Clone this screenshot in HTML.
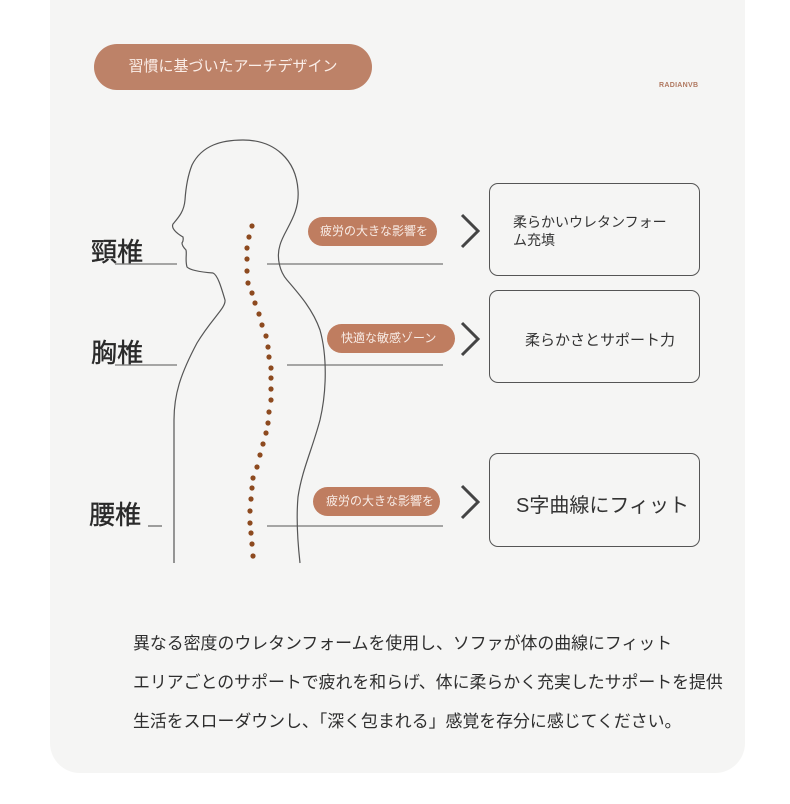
<!DOCTYPE html>
<html><head><meta charset="utf-8"><style>
html,body{margin:0;padding:0;background:#fff;}
body{width:790px;height:804px;position:relative;overflow:hidden;font-family:"Liberation Sans","Noto Sans CJK JP",sans-serif;}
.card{position:absolute;left:50px;top:-30px;width:695px;height:803px;background:#f5f5f4;border-radius:30px;}
.abs{position:absolute;white-space:nowrap;}
.pill{position:absolute;background:#bf7d60;color:#f8ece6;border-radius:15px;font-size:12px;line-height:29px;height:29px;overflow:hidden;}
.box{position:absolute;border:1.3px solid #555;border-radius:9px;box-sizing:border-box;color:#333;}
.lbl{position:absolute;font-size:26px;color:#2a2a2a;-webkit-text-stroke:0.4px #2a2a2a;}
.para{position:absolute;left:133px;font-size:16.9px;color:#2e2e2e;white-space:nowrap;}
</style></head><body>
<div class="card"></div>
<div class="abs" style="left:94px;top:44px;width:278px;height:46px;border-radius:23px;background:#bd8268;color:#fbeee8;font-size:15px;line-height:46px;text-align:center;">習慣に基づいたアーチデザイン</div>
<div class="abs" style="left:659px;top:82px;font-size:7px;font-weight:bold;color:#b07860;letter-spacing:0.3px;">RADIANVB</div>

<svg class="abs" style="left:0;top:0" width="790" height="804">
<path d="M174,563 L174,420 C174,395 180,375 197,343 C212,318 226,308 225,300 C222,290 218,275 213,273 C200,272 190,270 187,267 C185,260 187,254 186,250 C183,247 182,245 182,243 C184,240 183,238 183,237 C176,233 171,228 173,224 C178,218 184,212 185,200 C186,185 188,175 192,165 C202,145 222,140 243,140 C275,140 296,160 298,190 C300,215 284,230 280,245 C276,258 280,272 287,280 C300,295 313,310 320,330 C327,355 327,390 320,420 C312,450 302,470 298,497 C296,520 298,545 300,563" fill="none" stroke="#555" stroke-width="1.2"/>
<g stroke="#555" stroke-width="1.1">
<line x1="115" y1="264" x2="177" y2="264"/><line x1="267" y1="264" x2="443" y2="264"/>
<line x1="115" y1="365" x2="177" y2="365"/><line x1="287" y1="365" x2="443" y2="365"/>
<line x1="148" y1="526" x2="162" y2="526"/><line x1="267" y1="526" x2="443" y2="526"/>
</g>
<g fill="#8d4a1f">
<circle cx="252" cy="226" r="2.6"/><circle cx="249" cy="237" r="2.6"/><circle cx="247" cy="248" r="2.6"/><circle cx="247" cy="259" r="2.6"/><circle cx="247" cy="271" r="2.6"/><circle cx="248" cy="283" r="2.6"/><circle cx="252" cy="293" r="2.6"/><circle cx="255" cy="303" r="2.6"/><circle cx="259" cy="314" r="2.6"/><circle cx="262" cy="325" r="2.6"/><circle cx="266" cy="336" r="2.6"/><circle cx="268" cy="347" r="2.6"/><circle cx="269" cy="357" r="2.6"/><circle cx="271" cy="368" r="2.6"/><circle cx="271" cy="378" r="2.6"/><circle cx="271" cy="389" r="2.6"/><circle cx="271" cy="400" r="2.6"/><circle cx="269" cy="412" r="2.6"/><circle cx="268" cy="423" r="2.6"/><circle cx="266" cy="433" r="2.6"/><circle cx="263" cy="444" r="2.6"/><circle cx="260" cy="455" r="2.6"/><circle cx="257" cy="467" r="2.6"/><circle cx="253" cy="478" r="2.6"/><circle cx="252" cy="488" r="2.6"/><circle cx="251" cy="499" r="2.6"/><circle cx="250" cy="511" r="2.6"/><circle cx="250" cy="523" r="2.6"/><circle cx="251" cy="533" r="2.6"/><circle cx="252" cy="544" r="2.6"/><circle cx="253" cy="556" r="2.6"/>
</g>
<g fill="none" stroke="#444" stroke-width="3">
<polyline points="462,215 478,231 462,247"/>
<polyline points="462,323 478,339 462,355"/>
<polyline points="462,486 478,502 462,518"/>
</g>
</svg>

<div class="lbl" style="left:91px;top:232px;">頸椎</div>
<div class="lbl" style="left:91px;top:333px;">胸椎</div>
<div class="lbl" style="left:89px;top:495px;">腰椎</div>

<div class="pill" style="left:308px;top:217px;width:129px;"><span style="padding-left:12px">疲労の大きな影響を受</span></div>
<div class="pill" style="left:327px;top:324px;width:128px;"><span style="padding-left:14px">快適な敏感ゾーン</span></div>
<div class="pill" style="left:313px;top:487px;width:127px;"><span style="padding-left:13px">疲労の大きな影響を受</span></div>

<div class="box" style="left:489px;top:183px;width:211px;height:93px;"><div class="abs" style="left:23px;top:29px;font-size:14px;line-height:18px;">柔らかいウレタンフォー<br>ム充填</div></div>
<div class="box" style="left:489px;top:290px;width:211px;height:93px;"><div class="abs" style="left:35px;top:38px;font-size:15px;">柔らかさとサポート力</div></div>
<div class="box" style="left:489px;top:453px;width:211px;height:94px;"><div class="abs" style="left:26px;top:35px;font-size:20px;">S字曲線にフィット</div></div>

<div class="para" style="top:629px;">異なる密度のウレタンフォームを使用し、ソファが体の曲線にフィット</div>
<div class="para" style="top:668px;">エリアごとのサポートで疲れを和らげ、体に柔らかく充実したサポートを提供</div>
<div class="para" style="top:707px;">生活をスローダウンし、「深く包まれる」感覚を存分に感じてください。</div>
</body></html>
